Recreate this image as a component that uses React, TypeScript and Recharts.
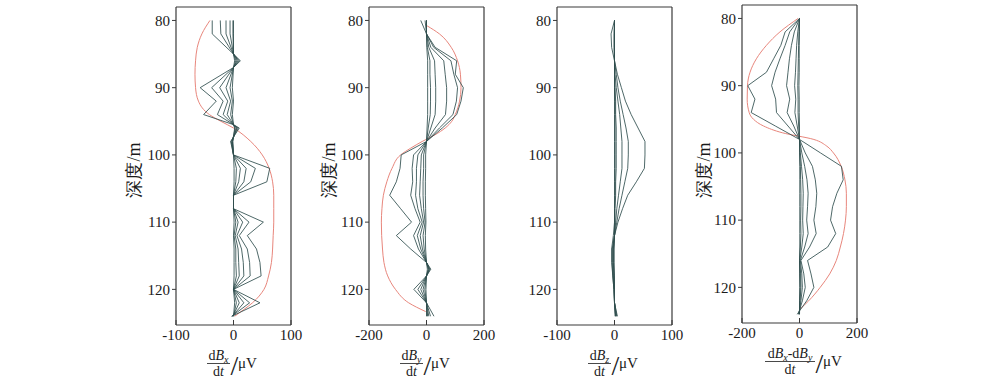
import React from 'react';
import { LineChart, Line, XAxis, YAxis } from 'recharts';

// ---------- shared axis values ----------
const depthTicks = [80, 90, 100, 110, 120];
const depthDomain: [number, number] = [78, 125.3];
const ticks100 = [-100, 0, 100];
const ticks200 = [-200, 0, 200];

// ---------- Panel 1: dBx/dt ----------
const bxDepths = [80, 82, 85, 86, 87, 90, 92, 94, 95.5, 96, 98, 100, 102, 104, 106, 108, 110, 112, 114, 116, 118, 120, 122, 124];
const bxLine1 = [-37, -37, 0, 12, 0, -58, -30, -52, 0, 10, -5, 0, 63, 58, 0, 0, 52, 24, 40, 46, 48, 0, 46, -3];
const bxLine2 = [-23, -22, 0, 10, 0, -38, -18, -28, 0, 8, -4, 0, 38, 30, 0, 0, 27, 10, 24, 28, 29, 0, 28, -3];
const bxLine3 = [-13, -13, 0, 8, 0, -24, -10, -18, 0, 6, -3, 0, 22, 18, 0, 0, 16, 6, 14, 17, 18, 0, 18, -2];
const bxLine4 = [-6, -6, 0, 6, 0, -13, -5, -11, 0, 5, -2, 0, 12, 9, 0, 0, 8, 3, 8, 9, 10, 0, 10, -1];
const bxLine5 = [-1, -1, 0, 4, 0, -6, -2, -5, 0, 3, -2, 0, 5, 4, 0, 0, 4, 1, 4, 4, 5, 0, 5, 0];
const bxLine6 = [0, 0, 0, 2, 0, -2, 0, -2, 0, 2, -1, 0, 1, 1, 0, 0, 1, 0, 1, 1, 1, 0, 2, 0];
const bxRedDepths = [80, 82, 84, 86, 88, 90, 92, 94, 95, 96, 98, 100, 102, 104, 106, 108, 110, 112, 114, 116, 118, 120, 122, 123, 124];
const bxRed = [-41, -55, -63, -66, -67, -66, -61, -42, -22, 0, 30, 50, 62, 68, 70, 70, 70, 69, 68, 66, 61, 53, 33, 18, 2];

// ---------- Panel 2: dBy/dt ----------
const byDepths = [80, 82, 84, 86, 88, 90, 92, 94, 96, 98, 100, 102, 104, 106, 108, 110, 112, 114, 116, 117, 118, 120, 122, 124];
const byLine1 = [-20, 0, 30, 105, 100, 128, 120, 105, 55, 0, -88, -92, -105, -128, -90, -52, -105, -55, 0, 15, 0, -44, 0, 26];
const byLine2 = [-5, 0, 25, 85, 95, 108, 104, 92, 45, 0, -45, -50, -48, -55, -40, -22, -45, -28, 0, 12, 0, -30, 0, 14];
const byLine3 = [0, 0, 15, 60, 65, 70, 70, 66, 30, 0, -30, -35, -35, -38, -30, -15, -32, -20, 0, 10, 0, -20, 0, 8];
const byLine4 = [0, 0, 8, 28, 30, 32, 32, 30, 15, 0, -18, -20, -22, -24, -18, -10, -22, -14, 0, 8, 0, -12, 0, 4];
const byLine5 = [0, 0, 3, 12, 12, 14, 14, 13, 6, 0, -10, -10, -12, -12, -10, -5, -12, -8, 0, 6, 0, -6, 0, 2];
const byLine6 = [0, 0, 1, 4, 4, 4, 4, 4, 2, 0, -3, -3, -4, -4, -3, -2, -4, -3, 0, 3, 0, -2, 0, 0];
const byRedDepths = [80.8, 82, 84, 86, 88, 90, 92, 94, 95, 96, 97, 98, 99, 100, 102, 104, 106, 108, 110, 112, 114, 116, 118, 120, 122, 123.3];
const byRed = [2, 45, 86, 108, 118, 120, 115, 100, 88, 65, 30, -15, -55, -90, -120, -138, -150, -155, -157, -156, -153, -148, -135, -108, -62, -3];

// ---------- Panel 3: dBz/dt ----------
const bzDepths = [80, 82, 84, 86, 88, 90, 92, 94, 96, 98, 100, 102, 104, 106, 108, 110, 112, 114, 116, 118, 120, 122, 124];
const bzLine1 = [0, 0, 0, 0, 5, 12, 19, 29, 41, 53, 53, 52, 38, 23, 14, 6, 0, -1, -1, 0, 0, 0, 1];
const bzLine2 = [0, 0, 0, 0, 3, 6, 10, 15, 20, 24, 24, 23, 18, 13, 8, 4, 0, -2, -2, -1, 0, 0, 2];
const bzLine3 = [0, 0, 0, 0, 1, 3, 6, 9, 11, 13, 13, 13, 10, 7, 4, 2, 0, -3, -3, -2, -1, 0, 3];
const bzLine4 = [0, 0, 0, 0, 0, 1, 2, 2, 3, 3, 3, 3, 2, 2, 1, 1, 0, -4, -4, -3, -1, 0, 4];
const bzLine5 = [0, -6, -5, 0, 0, 0, 1, 1, 1, 1, 1, 1, 1, 1, 0, 0, -2, -5, -5, -3, -1, 0, 5];
const bzLine6 = [0, -1, -1, 0, 0, 0, 0, 0, 0, 0, 0, 0, 0, 0, 0, 0, 0, -1, -1, -1, 0, 0, 2];

// ---------- Panel 4: (dBx-dBy)/dt ----------
const bxyDepths = [80, 82, 84, 86, 88, 90, 92, 94, 96, 98, 100, 102, 104, 106, 108, 110, 112, 114, 116, 118, 120, 122, 124];
const bxyLine1 = [0, -50, -65, -90, -115, -180, -155, -168, -84, 0, 73, 146, 152, 130, 115, 108, 126, 98, 28, 40, 50, 25, -8];
const bxyLine2 = [0, -34, -50, -68, -85, -97, -83, -80, -40, 0, 20, 45, 55, 60, 57, 50, 58, 35, 5, 15, 20, 10, -4];
const bxyLine3 = [0, -18, -28, -35, -40, -45, -34, -43, -20, 0, 8, 18, 26, 30, 28, 25, 30, 18, 3, 8, 10, 5, -2];
const bxyLine4 = [0, -6, -10, -12, -14, -17, -13, -16, -8, 0, 3, 7, 11, 13, 12, 11, 13, 8, 1, 4, 5, 2, -1];
const bxyLine5 = [0, -2, -3, -4, -5, -6, -5, -5, -3, 0, 1, 3, 4, 5, 5, 4, 5, 3, 0, 2, 2, 1, 0];
const bxyLine6 = [0, 0, -1, -1, -1, -2, -1, -1, 0, 0, 0, 1, 1, 1, 1, 1, 1, 1, 0, 0, 1, 0, 0];
const bxyRedDepths = [80, 82, 84, 86, 88, 90, 92, 94, 95, 96, 97, 98, 99, 100, 102, 104, 106, 108, 110, 112, 114, 116, 118, 120, 122, 123.3];
const bxyRed = [-5, -68, -115, -150, -172, -181, -182, -175, -160, -125, -60, 50, 95, 118, 145, 158, 163, 163, 160, 153, 142, 128, 105, 72, 32, 0];

// ---------- styling ----------
const SERIF = "'Liberation Serif', 'Times New Roman', serif";
const FRAME = '#3a3a3a';
const TEXT = '#1a1a1a';
const DARK = '#2f4d4d';
const RED = '#e8867c';

const toRows = (depths: number[], vals: number[]) => depths.map((d, i) => ({ d, v: vals[i] }));

type Term = { sub: string };

function XTick(props: any) {
  const { x, y, payload, inset } = props;
  return (
    <g>
      <line x1={x} x2={x} y1={y - inset - 5} y2={y - inset} stroke={FRAME} strokeWidth={1} />
      <text x={x} y={y} dy="0.71em" textAnchor="middle" fontFamily={SERIF} fontSize={15} fill={TEXT}>
        {payload.value}
      </text>
    </g>
  );
}

function XFracLabel(props: any) {
  const vb = props.viewBox || {};
  const left = typeof vb.x === 'number' ? vb.x : 0;
  const width = typeof vb.width === 'number' ? vb.width : 115;
  const top = typeof vb.y === 'number' ? vb.y : 325;
  const terms: Term[] = props.terms;
  const cx = left + width / 2 + props.shiftX;
  const hw = props.halfBar;
  const nodes: React.ReactNode[] = [];
  terms.forEach((t, i) => {
    nodes.push(
      <tspan key={'d' + i} dy={i === 0 ? 0 : -3}>{i === 0 ? 'd' : '-d'}</tspan>,
      <tspan key={'b' + i} fontStyle="italic">B</tspan>,
      <tspan key={'s' + i} fontStyle="italic" fontSize={10} dy={3}>{t.sub}</tspan>
    );
  });
  return (
    <g fontFamily={SERIF} fill={TEXT}>
      <text x={cx} y={top + 35} textAnchor="middle" fontSize={14}>{nodes}</text>
      <line x1={cx - hw} x2={cx + hw} y1={top + 38.5} y2={top + 38.5} stroke={TEXT} strokeWidth={0.8} />
      <text x={cx} y={top + 50.5} textAnchor="middle" fontSize={14}>
        <tspan>d</tspan>
        <tspan fontStyle="italic">t</tspan>
      </text>
      <text x={cx + hw + 0.5} y={top + 49.5} fontSize={28} fontWeight={300}>/</text>
      <text x={cx + hw + 8} y={top + 42.5} fontSize={15}>μV</text>
    </g>
  );
}

function YDepthLabel(props: any) {
  const vb = props.viewBox || {};
  const right = (typeof vb.x === 'number' ? vb.x : 0) + (typeof vb.width === 'number' ? vb.width : 0);
  const x = right - props.gap;
  const cy = 170;
  return (
    <text
      x={x}
      y={cy}
      transform={`rotate(-90 ${x} ${cy})`}
      textAnchor="middle"
      dominantBaseline="central"
      fontFamily={SERIF}
      fontSize={18}
      fill={TEXT}
    >
      深度/m
    </text>
  );
}

type PanelSpec = {
  plotLeft: number;
  plotTop: number;
  plotBottom: number;
  xDomain: [number, number];
  xTicks: number[];
  depths: number[];
  lines: number[][];
  redDepths?: number[];
  red?: number[];
  terms: Term[];
  hw: number;
  dx: number;
  yLabelGap?: number;
};

const panels: PanelSpec[] = [
  {
    plotLeft: 176, plotTop: 7, plotBottom: 325, xDomain: [-100, 100], xTicks: ticks100,
    depths: bxDepths, lines: [bxLine1, bxLine2, bxLine3, bxLine4, bxLine5, bxLine6],
    redDepths: bxRedDepths, red: bxRed, terms: [{ sub: 'x' }], hw: 11.5, dx: -15, yLabelGap: 42,
  },
  {
    plotLeft: 369, plotTop: 7, plotBottom: 325, xDomain: [-200, 200], xTicks: ticks200,
    depths: byDepths, lines: [byLine1, byLine2, byLine3, byLine4, byLine5, byLine6],
    redDepths: byRedDepths, red: byRed, terms: [{ sub: 'y' }], hw: 11.5, dx: -15, yLabelGap: 40,
  },
  {
    plotLeft: 557, plotTop: 7, plotBottom: 325, xDomain: [-100, 100], xTicks: ticks100,
    depths: bzDepths, lines: [bzLine1, bzLine2, bzLine3, bzLine4, bzLine5, bzLine6],
    terms: [{ sub: 'z' }], hw: 11.5, dx: -15,
  },
  {
    plotLeft: 742, plotTop: 5, plotBottom: 323, xDomain: [-200, 200], xTicks: ticks200,
    depths: bxyDepths, lines: [bxyLine1, bxyLine2, bxyLine3, bxyLine4, bxyLine5, bxyLine6],
    redDepths: bxyRedDepths, red: bxyRed, terms: [{ sub: 'x' }, { sub: 'y' }], hw: 25, dx: -9.5, yLabelGap: 38,
  },
];

const ML = 70;
const MR = 12;
const PW = 115;
const H = 382;
const AX = 1; // thickness reserved for each axis box

function Panel({ spec }: { spec: PanelSpec }) {
  const tickInset = 4;
  return (
    <div style={{ position: 'absolute', left: spec.plotLeft - ML, top: 0 }}>
      <LineChart
        layout="vertical"
        width={ML + PW + MR}
        height={H}
        margin={{ top: spec.plotTop - AX, right: MR - AX, bottom: H - spec.plotBottom - AX, left: ML - AX }}
      >
        <XAxis
          type="number"
          domain={spec.xDomain}
          ticks={spec.xTicks}
          allowDataOverflow
          height={AX}
          tickSize={0}
          tickMargin={tickInset}
          tickLine={false}
          axisLine={{ stroke: FRAME, strokeWidth: 1.2 }}
          tick={<XTick inset={tickInset} />}
          label={<XFracLabel terms={spec.terms} halfBar={spec.hw} shiftX={spec.dx} />}
        />
        <XAxis
          xAxisId="top"
          orientation="top"
          type="number"
          domain={spec.xDomain}
          allowDataOverflow
          height={AX}
          tick={false}
          tickLine={false}
          axisLine={{ stroke: FRAME, strokeWidth: 1.2 }}
        />
        <YAxis
          type="number"
          dataKey="d"
          domain={depthDomain}
          ticks={depthTicks}
          allowDataOverflow
          width={AX}
          tickSize={4}
          tickMargin={2}
          axisLine={{ stroke: FRAME, strokeWidth: 1.2 }}
          tickLine={{ stroke: FRAME }}
          tick={{ fontFamily: SERIF, fontSize: 15, fill: TEXT }}
          label={spec.yLabelGap ? <YDepthLabel gap={spec.yLabelGap} /> : undefined}
        />
        <YAxis
          yAxisId="right"
          orientation="right"
          type="number"
          domain={depthDomain}
          allowDataOverflow
          width={AX}
          tick={false}
          tickLine={false}
          axisLine={{ stroke: FRAME, strokeWidth: 1.2 }}
        />
        {spec.red && spec.redDepths ? (
          <Line
            data={toRows(spec.redDepths, spec.red)}
            dataKey="v"
            type="monotone"
            stroke={RED}
            strokeWidth={1}
            dot={false}
            isAnimationActive={false}
          />
        ) : null}
        {spec.lines.map((vals, i) => (
          <Line
            key={i}
            data={toRows(spec.depths, vals)}
            dataKey="v"
            type="linear"
            stroke={DARK}
            strokeWidth={1}
            strokeOpacity={0.85}
            dot={false}
            isAnimationActive={false}
          />
        ))}
      </LineChart>
    </div>
  );
}

export default function App() {
  return (
    <div style={{ position: 'absolute', left: 0, top: 0, width: 1000, height: 382, background: '#fff', overflow: 'hidden' }}>
      {panels.map((p, i) => (
        <Panel key={i} spec={p} />
      ))}
    </div>
  );
}
